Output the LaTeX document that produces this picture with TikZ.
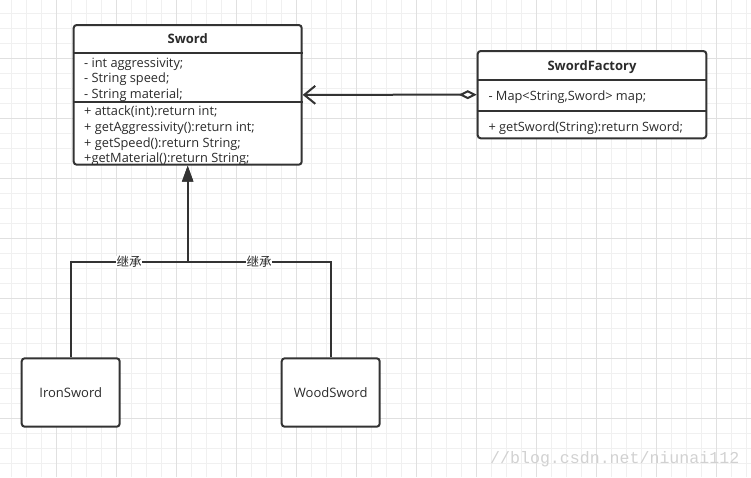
\documentclass[tikz,border=0pt]{standalone}
\usepackage{fontspec}
\setmainfont{Open Sans}
\newfontfamily\cjk{Noto Sans CJK SC}
\newfontfamily\wmfont{Liberation Mono}
\usetikzlibrary{arrows.meta}
\definecolor{umlgray}{HTML}{333333}
\definecolor{textgray}{HTML}{2B2B2B}
\definecolor{gridlight}{HTML}{F0F0F0}
\definecolor{griddark}{HTML}{E0E0E0}
\tikzstyle{gridminor}=[draw=gridlight,line width=1pt]
\tikzstyle{gridmajor}=[draw=griddark,line width=1pt]
\tikzstyle{classbox}=[draw=umlgray,line width=2pt,rounded corners=3pt,fill=white,inner sep=0pt,text=textgray,font=\fontsize{13}{15}\selectfont]
\tikzstyle{classline}=[draw=umlgray,line width=2pt]
\tikzstyle{classtitle}=[anchor=base,inner sep=0pt,text=textgray,font=\bfseries\fontsize{13}{15}\selectfont]
\tikzstyle{member}=[anchor=base west,inner sep=0pt,text=textgray,font=\fontsize{12.8}{15}\selectfont]
\tikzstyle{edgelabel}=[fill=white,inner sep=0.5pt,text=textgray,font=\cjk\fontsize{12.5}{14}\selectfont]
\tikzstyle{inherit}=[draw=umlgray,line width=2pt,-{Triangle[length=16pt,width=11pt]}]
\tikzstyle{aggr}=[draw=umlgray,line width=2pt,{Diamond[length=18pt,width=9pt,fill=white]}-{Straight Barb[length=11pt,width=18pt]}]
\tikzstyle{watermark}=[anchor=base west,inner sep=0pt,text=black!18,font=\wmfont\fontsize{16.6}{18}\selectfont]

\begin{document}
\begin{tikzpicture}[x=1pt,y=-1pt]
\useasboundingbox (0,0) rectangle (751,477);

%grid
\foreach \gx in {11.7,26.7,...,750}
    \draw[gridminor] (\gx,0) -- (\gx,477);
\foreach \gy in {13.3,28.3,...,477}
    \draw[gridminor] (0,\gy) -- (751,\gy);
\foreach \gx in {56.7,116.7,...,750}
    \draw[gridmajor] (\gx,0) -- (\gx,477);
\foreach \gy in {58.3,118.3,...,477}
    \draw[gridmajor] (0,\gy) -- (751,\gy);

%classes
\foreach \pos/\name/\w/\h/\label in {{(187.7,94.85)/sword/228/139.7/{}}, {(592,94.65)/factory/228.6/87.3/{}}, {(70.7,392.5)/iron/98/68.4/IronSword}, {(330.7,392.5)/wood/98/68.4/WoodSword}}
    \node[classbox,minimum width=\w pt,minimum height=\h pt] (\name) at \pos {\label};

\foreach \name/\y in {sword/53.3, sword/102.3, factory/80, factory/110.7}
    \draw[classline] (\name.west |- 0,\y) -- (\name.east |- 0,\y);

\node[classtitle] (swordname) at (187.7,43.7) {Sword};
\node[classtitle] (factoryname) at (592,70.7) {SwordFactory};

%members
\foreach \txt [count=\i] in {{- int aggressivity;}, {- String speed;}, {- String material;}}
    \node[member] (swordattr\i) at (84,52.1+15.4*\i) {\txt};
\foreach \txt [count=\i] in {{+ attack(int):return int;}, {+ getAggressivity():return int;}, {+ getSpeed():return String;}, {+getMaterial():return String;}}
    \node[member] (swordop\i) at (84,100.03+15.67*\i) {\txt};
\node[member] (factoryattr) at (488.3,100) {- Map<String,Sword> map;};
\node[member] (factoryop) at (488.3,131.7) {+ getSword(String):return Sword;};

%relations
\draw[aggr] (factory.west) -- (sword.east);
\coordinate (join) at (sword.south |- 0,261.7);
\draw[inherit] (iron.north) |- node[edgelabel,pos=0.75] (ironlbl) {继承} (join) -- (sword.south);
\draw[inherit] (wood.north) |- node[edgelabel,pos=0.75] (woodlbl) {继承} (join) -- (sword.south);

\node[watermark] (wm) at (490,463.3) {//blog.csdn.net/niunai112};

\end{tikzpicture}
\end{document}
